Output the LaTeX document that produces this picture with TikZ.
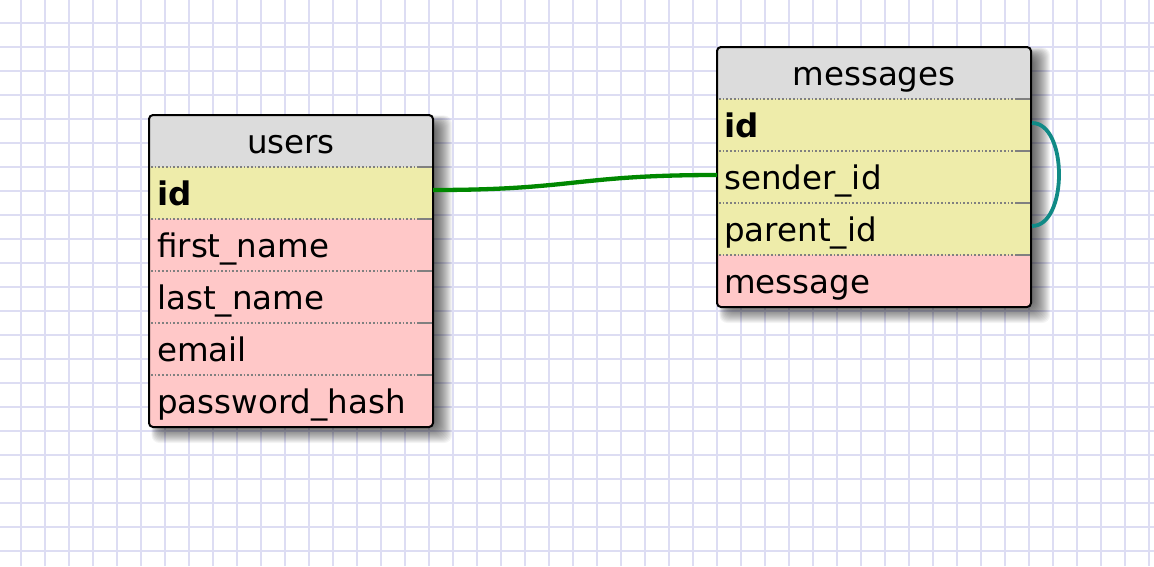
\documentclass[tikz,border=0pt]{standalone}
\usepackage{fontspec}
\setmainfont{DejaVu Sans}
\definecolor{gridc}{RGB}{221,221,243}
\definecolor{headc}{RGB}{220,220,220}
\definecolor{keyc}{RGB}{238,236,170}
\definecolor{fieldc}{RGB}{255,200,200}
\definecolor{sepc}{RGB}{128,128,128}
\definecolor{relgreen}{RGB}{0,136,0}
\definecolor{relteal}{RGB}{16,138,134}
\tikzset{
  x=1pt, y=-1pt,
  gridline/.style={gridc, line width=2pt},
  hdtext/.style={anchor=base, font=\fontsize{32.5}{38}\selectfont, inner sep=0pt},
  fldtext/.style={anchor=base west, font=\fontsize{32.5}{38}\selectfont, inner sep=0pt},
  keytext/.style={anchor=base west, font=\fontsize{32.5}{38}\selectfont\bfseries, inner sep=0pt},
  sepline/.style={sepc, line width=1.7pt, dash pattern=on 1.7pt off 2pt},
  frame/.style={draw=black, line width=2pt, rounded corners=4pt},
  rel/.style={line width=4.3pt},
}
\newcommand{\tblshadow}[4]{%
  \foreach \e in {0,1,...,16}{
    \fill[black, opacity=0.042, rounded corners=8pt] (#1+12-0.6*\e,#2+10-0.6*\e) rectangle (#3+3+\e,#4+\e);
  }%
}
\begin{document}
\begin{tikzpicture}
\useasboundingbox (0,0) rectangle (1154,566);
\fill[white] (0,0) rectangle (1154,566);
% grid
\foreach \gx in {0,...,47}{ \draw[gridline] (21+24*\gx,0) -- (21+24*\gx,566); }
\foreach \gy in {0,...,23}{ \draw[gridline] (0,23+24*\gy) -- (1154,23+24*\gy); }

% ---------- users table ----------
\tblshadow{149}{115}{433}{427}
\begin{scope}
  \clip[rounded corners=4pt] (149,115) rectangle (433,427);
  \fill[headc] (149,115) rectangle (433,167);
  \fill[keyc] (149,167) rectangle (433,219);
  \fill[fieldc] (149,219) rectangle (433,427);
\end{scope}
\foreach \sy in {167,219,271,323,375}{
  \draw[sepline] (151,\sy) -- (418,\sy);
  \draw[sepc, line width=1.7pt] (418,\sy) -- (432,\sy);
}
\draw[frame] (149,115) rectangle (433,427);
\node[hdtext] (uhead) at (291,153) {users};
\node[keytext] (uid) at (157,205) {id};
\node[fldtext] (ufirst) at (157,257) {first\_name};
\node[fldtext] (ulast) at (157,309) {last\_name};
\node[fldtext] (uemail) at (157,361) {email};
\node[fldtext] (upass) at (157,413) {password\_hash};
\coordinate (uidR) at (433,190);

% ---------- messages table ----------
\tblshadow{717}{47}{1031}{307}
\begin{scope}
  \clip[rounded corners=4pt] (717,47) rectangle (1031,307);
  \fill[headc] (717,47) rectangle (1031,99);
  \fill[keyc] (717,99) rectangle (1031,255);
  \fill[fieldc] (717,255) rectangle (1031,307);
\end{scope}
\foreach \sy in {99,151,203,255}{
  \draw[sepline] (719,\sy) -- (1016,\sy);
  \draw[sepc, line width=1.7pt] (1016,\sy) -- (1030,\sy);
}
\draw[frame] (717,47) rectangle (1031,307);
\node[hdtext] (mhead) at (874,85) {messages};
\node[keytext] (mid) at (724,137) {id};
\node[fldtext] (msender) at (724,189) {sender\_id};
\node[fldtext] (mparent) at (724,241) {parent\_id};
\node[fldtext] (mmsg) at (724,293) {message};
\coordinate (msenderL) at (717,175);
\coordinate (midR) at (1032,123);
\coordinate (mparentR) at (1032,226);

% ---------- relations ----------
\draw[rel, relgreen] (uidR) .. controls (575,190) and (575,175) .. (msenderL);
\draw[rel, relteal, line width=3.8pt] (midR) .. controls (1068,123) and (1068,226) .. (mparentR);
\end{tikzpicture}
\end{document}
